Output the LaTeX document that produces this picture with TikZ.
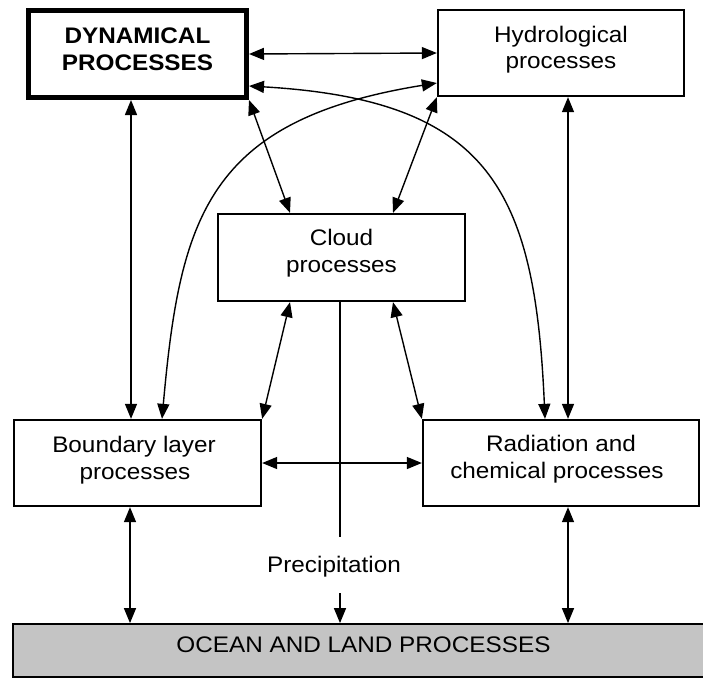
\documentclass[tikz,border=0pt]{standalone}
\usepackage{fontspec}
\setmainfont{Liberation Sans}[FakeStretch=1.08]
\usetikzlibrary{arrows.meta}
\definecolor{oceangray}{RGB}{196,196,196}
\begin{document}
\begin{tikzpicture}[x=1pt,y=-1pt,
  box/.style={draw, line width=1.8pt, inner sep=0pt},
  dynbox/.style={draw, line width=5pt, inner sep=0pt},
  oceanbox/.style={draw, line width=1.8pt, fill=oceangray, inner sep=0pt},
  txt/.style={inner sep=0pt, anchor=base, font=\fontsize{22.5}{27}\selectfont},
  btxt/.style={inner sep=0pt, anchor=base, font=\fontsize{22.5}{27}\selectfont\bfseries},
  tip/.tip={Triangle[length=15pt,width=12pt]},
  link/.style={line width=1.4pt, tip-tip},
  onelink/.style={line width=1.4pt, -tip},
  plain/.style={line width=1.4pt}]
\useasboundingbox (0,0) rectangle (703,681);
\clip (0,0) rectangle (703,681);
% boxes
\node[dynbox, minimum width=218pt, minimum height=87pt] (dyn) at (137.5,54) {};
\node[box, minimum width=246.5pt, minimum height=86.5pt] (hyd) at (561,53) {};
\node[box, minimum width=247.5pt, minimum height=87.5pt] (cld) at (341.5,257.5) {};
\node[box, minimum width=247.5pt, minimum height=86.5pt] (bnd) at (137.5,463) {};
\node[box, minimum width=276.5pt, minimum height=86.5pt] (rad) at (561,463) {};
\node[oceanbox, minimum width=720pt, minimum height=53pt] (ocn) at (373,650.5) {};
% texts
\node[btxt] (dyn1) at (137.5,43) {DYNAMICAL};
\node[btxt] (dyn2) at (137.5,70) {PROCESSES};
\node[txt] (hyd1) at (561,42) {Hydrological};
\node[txt] (hyd2) at (561,68) {processes};
\node[txt] (cld1) at (341.5,245) {Cloud};
\node[txt] (cld2) at (341.5,272) {processes};
\node[txt] (bnd1) at (134,452) {Boundary layer};
\node[txt] (bnd2) at (135,479) {processes};
\node[txt] (rad1) at (561,451) {Radiation and};
\node[txt] (rad2) at (557,478) {chemical processes};
\node[txt] (prc) at (334,572) {Precipitation};
\node[txt] (ocnt) at (363.5,652) {OCEAN AND LAND PROCESSES};
% free ends of the precipitation connector
\coordinate (pa) at (340,537);
\coordinate (pb) at (340,593);
% connectors
\draw[link] (dyn.east) -- (hyd.west);
\draw[link] ([yshift=-32pt]dyn.east) .. controls (490,100) and (535,190) .. ([xshift=-16pt]rad.north);
\draw[link] ([yshift=-30pt]hyd.west) .. controls (207,120) and (180,218) .. ([xshift=24.5pt]bnd.north);
\draw[link] ([xshift=-6.5pt]dyn.south) -- ([xshift=-6.5pt]bnd.north);
\draw[link] ([xshift=7pt]hyd.south) -- ([xshift=7pt]rad.north);
\draw[link] (dyn.south east) -- ([xshift=-51.5pt]cld.north);
\draw[link] (hyd.south west) -- ([xshift=51.5pt]cld.north);
\draw[link] ([xshift=-51.5pt]cld.south) -- (bnd.north east);
\draw[link] ([xshift=51.5pt]cld.south) -- (rad.north west);
\draw[link] (bnd.east) -- (rad.west);
\draw[link] ([xshift=-7.5pt]bnd.south) -- ([xshift=-7.5pt]bnd.south |- ocn.north);
\draw[link] ([xshift=7pt]rad.south) -- ([xshift=7pt]rad.south |- ocn.north);
\draw[plain] ([xshift=-1.5pt]cld.south) -- (pa);
\draw[onelink] (pb) -- (pb |- ocn.north);
\end{tikzpicture}
\end{document}
